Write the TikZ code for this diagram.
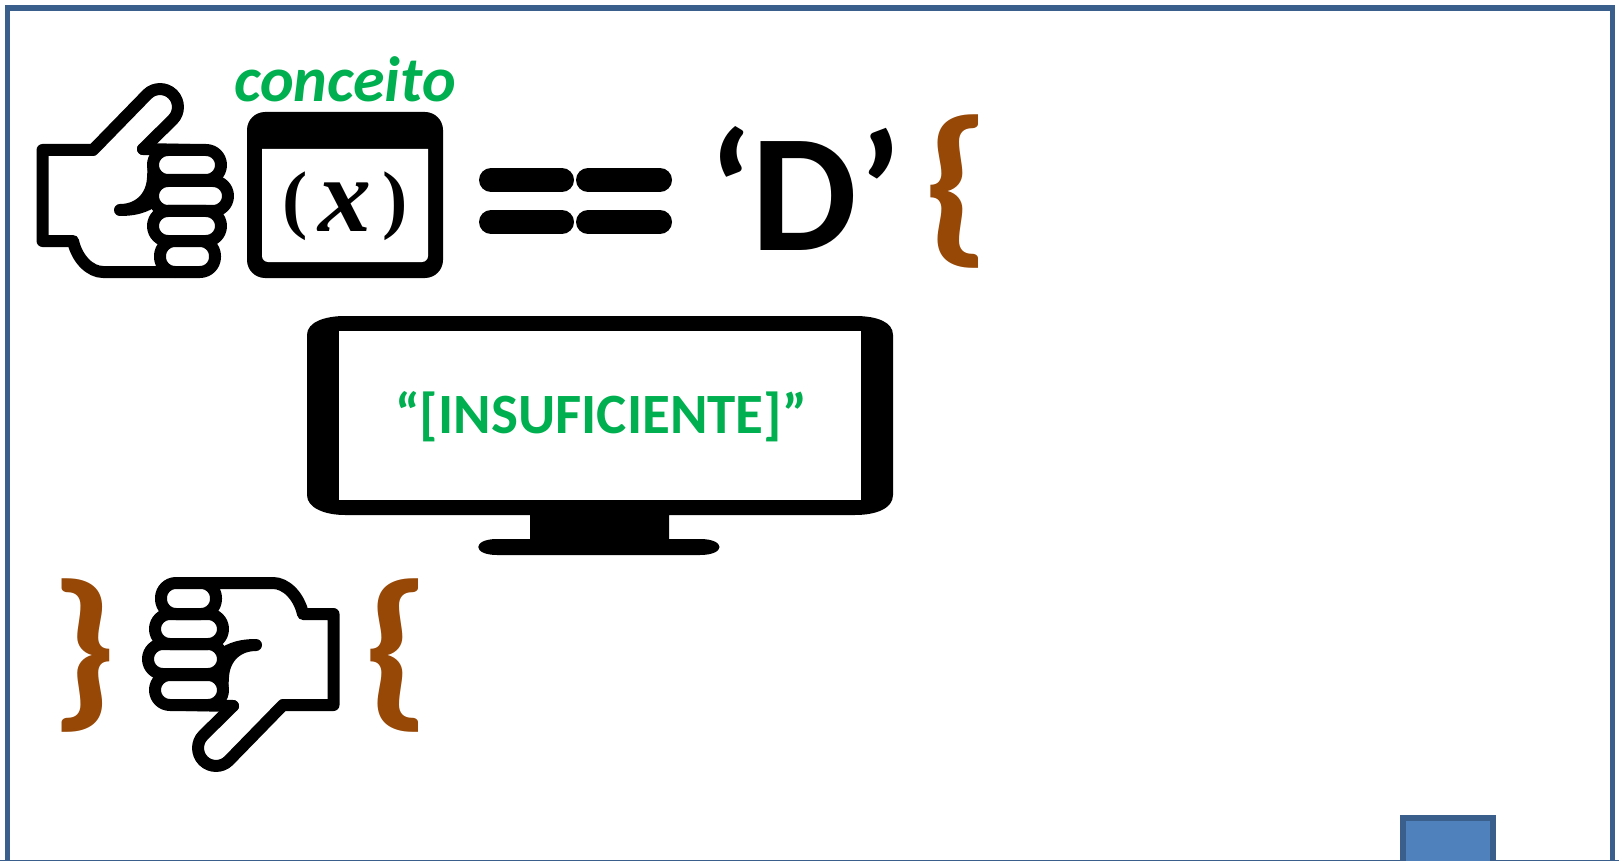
\documentclass[tikz,border=0pt]{standalone}
\usepackage{fontspec}
\setmainfont{Carlito}
\newfontfamily\mathlike{Liberation Serif}
\definecolor{frameblue}{HTML}{3B5F8C}
\definecolor{fillblue}{HTML}{4F81BD}
\definecolor{bracebrown}{HTML}{974706}
\definecolor{txtgreen}{HTML}{00B050}
\tikzset{
  icon/.style={line width=12pt,line join=round,line cap=round,draw=black},
  finger/.style={icon,fill=white,rounded corners=15pt},
  bar/.style={line width=24pt,line cap=round,draw=black},
  bracetxt/.style={text=bracebrown,inner sep=0pt,font=\fontsize{175}{175}\selectfont\bfseries},
  greentxt/.style={text=txtgreen,inner sep=0pt},
}
\newcommand{\handicon}{%
  \draw[icon] (143,149) -- (172.7,119.7)
    .. controls (179.7,112.7) and (179.7,101.3) .. (172.7,94.3)
    .. controls (165.7,87.3) and (154.3,87.3) .. (147.3,94.3)
    -- (93,150) -- (42.5,150) -- (42.5,241) -- (73,241)
    .. controls (77,259) and (90,272) .. (103,272) -- (175,272);
  \draw[icon] (143,149) -- (190,150);
  \draw[icon] (154,160) -- (153,178) .. controls (152,198) and (138,210) .. (120,210)
    .. controls (135,210) and (145,207) .. (155,200);
  \draw[finger] (153,150) rectangle (221,180);
  \draw[finger] (153,181) rectangle (228,211);
  \draw[finger] (153,211) rectangle (221,241);
  \draw[finger] (160,241) rectangle (215,272);
}
\begin{document}
\begin{tikzpicture}[x=1pt,y=-1pt]
\useasboundingbox (0,0) rectangle (1619,861);
\fill[white] (0,0) rectangle (1619,861);
% frame
\draw[frameblue,line width=5.5pt] (7.5,865) -- (7.5,8) -- (1612.5,8) -- (1612.5,865);
\draw[frameblue,line width=1.5pt] (0,860.3) -- (1619,860.3);
\draw[frameblue,line width=5.5pt,fill=fillblue] (1403,865) -- (1403,818) -- (1493,818) -- (1493,865);
% thumb up
\handicon
% function window
\fill[black,rounded corners=18pt] (247,112) rectangle (443,278);
\fill[white] (262,149) -- (428,149) [rounded corners=6pt] -- (428,262) -- (262,262) [sharp corners] -- cycle;
\node[inner sep=0pt,anchor=base,font=\fontsize{76}{76}\selectfont\mathlike\bfseries] (fx) at (345,224) {(\hspace{11pt}\raisebox{-8pt}{\fontsize{106}{106}\selectfont\textit{x}}\hspace{11pt})};
\node[greentxt,anchor=base,font=\fontsize{64}{64}\selectfont\bfseries\itshape] (conc) at (345,102) {conceito};
% double equals
\draw[bar] (491,180) -- (562,180);
\draw[bar] (588,180) -- (660,180);
\draw[bar] (491,222) -- (562,222);
\draw[bar] (588,222) -- (660,222);
\node[inner sep=0pt,anchor=base,font=\fontsize{168}{168}\selectfont\bfseries] (dlit) at (805,251) {‘D’};
\node[bracetxt] (b1) at (957,192) {\scalebox{1.14}[1]{\{}};
% monitor
\fill[black] (307,335) .. controls (307,322) and (325,316) .. (345,316) -- (855,316)
  .. controls (877,316) and (893,322) .. (893,335) -- (893,495)
  .. controls (893,508) and (877,515) .. (855,515) -- (669,515) -- (669,539) -- (700,539)
  .. controls (726,539) and (726,555) .. (700,555) -- (497,555)
  .. controls (472,555) and (472,539) .. (497,539) -- (530,539) -- (530,515) -- (345,515)
  .. controls (325,515) and (307,508) .. (307,495) -- cycle;
\fill[white] (339,331) rectangle (861,500);
\node[greentxt,anchor=base,font=\fontsize{57}{57}\selectfont\bfseries] (ins) at (601,433) {“[INSUFICIENTE]”};
% thumb down
\node[bracetxt] (b2) at (83.5,656) {\scalebox{1.14}[1]{\}}};
\node[bracetxt] (b3) at (397,656) {\scalebox{1.14}[1]{\{}};
\begin{scope}[shift={(376,855)},xscale=-1,yscale=-1]
\handicon
\end{scope}
\end{tikzpicture}
\end{document}
